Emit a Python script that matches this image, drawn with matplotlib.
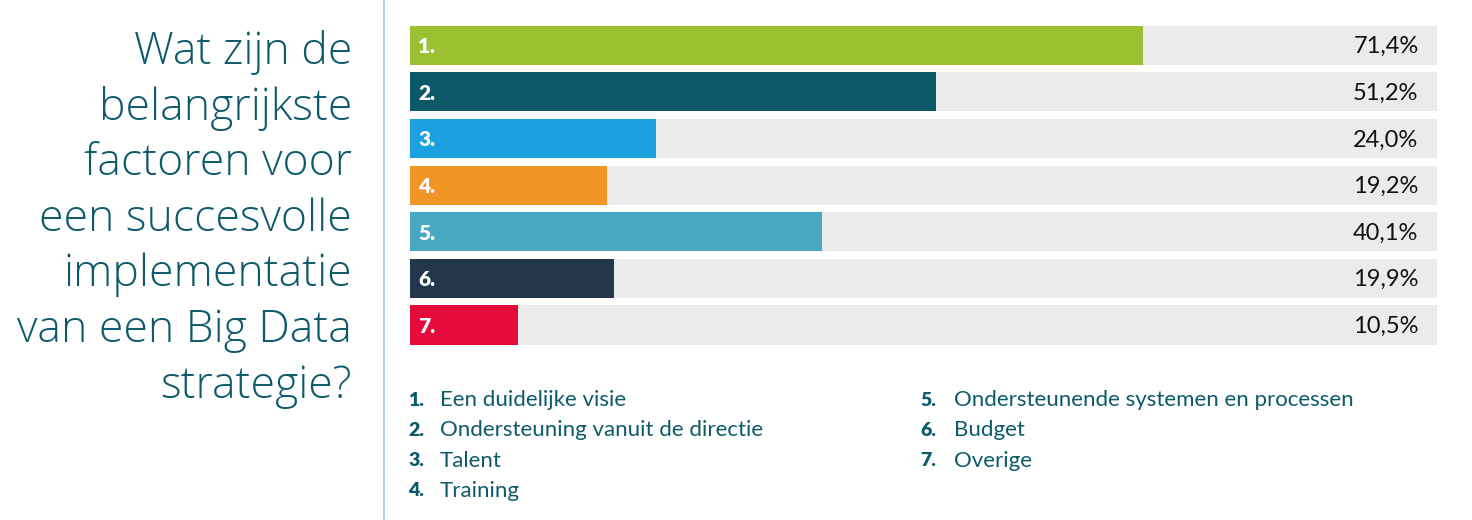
import matplotlib.pyplot as plt

# ============================
# DATA
# ============================
numbers = ["1.", "2.", "3.", "4.", "5.", "6.", "7."]
values = [71.4, 51.2, 24.0, 19.2, 40.1, 19.9, 10.5]
labels = ["Een duidelijke visie",
          "Ondersteuning vanuit de directie",
          "Talent",
          "Training",
          "Ondersteunende systemen en processen",
          "Budget",
          "Overige"]
colors = ["#9bc132", "#0b5968", "#1ba0e0", "#f29527",
          "#4aa9c2", "#24364b", "#e30b3c"]
title_lines = ["Wat zijn de", "belangrijkste", "factoren voor",
               "een succesvolle", "implementatie", "van een Big Data",
               "strategie?"]

teal = "#0d5a6b"
W, H = 1472, 520

fig = plt.figure(figsize=(W / 100, H / 100), dpi=100)
fig.patch.set_facecolor("white")

# ============================
# BARS
# ============================
ax = fig.add_axes([410 / W, 1 - 348.3 / H, 1027 / W, 326.3 / H])
y = list(range(len(values)))
ax.barh(y, [100] * len(values), height=0.84, color="#ebebeb")
ax.barh(y, values, height=0.84, color=colors)
ax.set_xlim(0, 100)
ax.set_ylim(len(values) - 0.5, -0.5)
ax.axis("off")

for i, v in enumerate(values):
    ax.text(0.8, i + 0.03, numbers[i], color="white", fontsize=15,
            fontweight="heavy", family="Lato", va="center", ha="left")
    ax.text(98.2, i + 0.03, f"{v:.1f}%".replace(".", ","), color="#111111",
            fontsize=17, family="Lato", va="center", ha="right")

# ============================
# TITLE
# ============================
for k, line in enumerate(title_lines):
    fig.text(352 / W, 1 - (64 + k * 55.6) / H, line, ha="right",
             va="baseline", fontsize=32, color=teal, family="Open Sans",
             fontweight="light")

# divider line
fig.add_artist(plt.Line2D([384 / W, 384 / W], [0, 1], color="#b5d6e3",
                          lw=1.5))

# ============================
# LEGEND
# ============================
rows = [400, 430, 461, 491, 400, 430, 461]
for i, lab in enumerate(labels):
    if i < 4:
        xn, xt = 408, 440
    else:
        xn, xt = 920, 954
    fig.text(xn / W, 1 - rows[i] / H, numbers[i], ha="left", va="center",
             fontsize=14, fontweight="heavy", color=teal, family="Lato")
    fig.text(xt / W, 1 - rows[i] / H, lab, ha="left", va="center",
             fontsize=16, color=teal, family="Lato")

plt.savefig("out.png", dpi=100)
